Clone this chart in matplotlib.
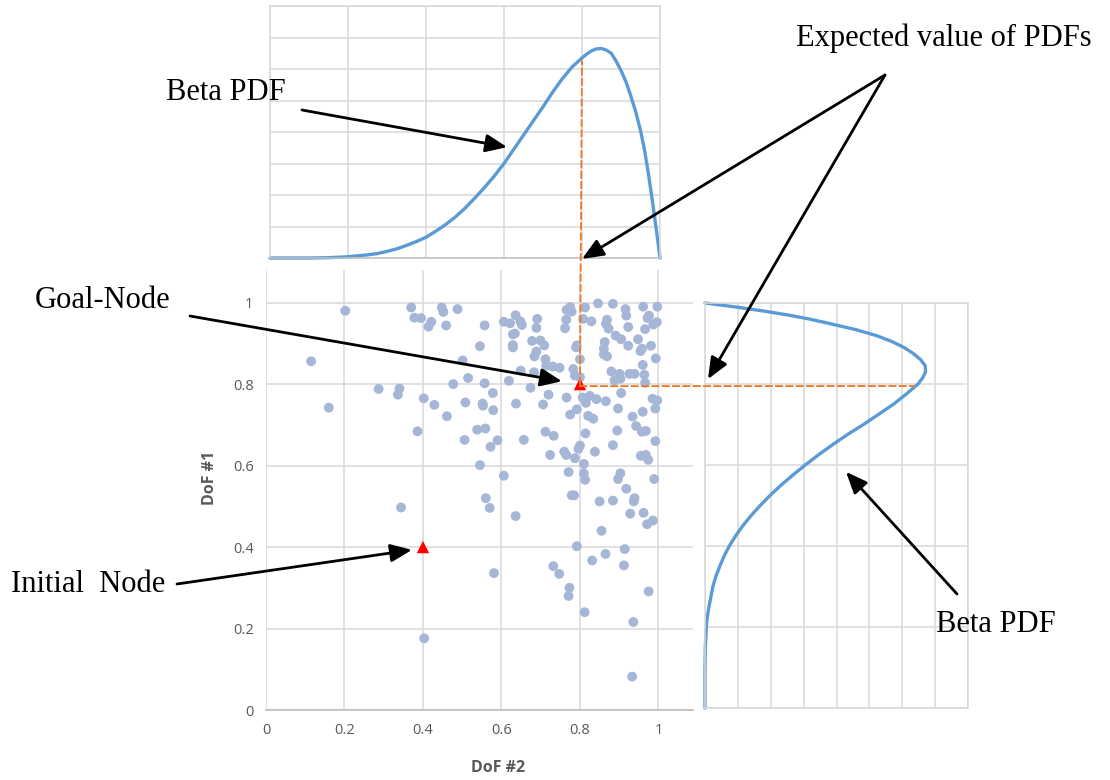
import matplotlib
matplotlib.use("Agg")
import matplotlib.pyplot as plt
import numpy as np
from matplotlib.patches import ConnectionPatch

W, H = 1110, 780

# scatter of sampled nodes (DoF #2, DoF #1)
SAMPLE_X = [
    0.202, 0.115, 0.160, 0.287, 0.340, 0.336, 0.370, 0.378, 0.395, 0.421, 0.414, 0.448, 0.452, 0.488,
    0.459, 0.402, 0.386, 0.429, 0.461, 0.477, 0.501, 0.515, 0.508, 0.506, 0.538, 0.559, 0.552, 0.553,
    0.557, 0.578, 0.579, 0.572, 0.590, 0.545, 0.606, 0.560, 0.545, 0.557, 0.606, 0.622, 0.636, 0.648,
    0.652, 0.629, 0.634, 0.629, 0.629, 0.649, 0.619, 0.637, 0.657, 0.683, 0.674,
    0.691, 0.689, 0.699, 0.678, 0.709, 0.689, 0.684, 0.712, 0.714, 0.731, 0.748, 0.766, 0.775, 0.779,
    0.765, 0.762, 0.792, 0.790, 0.800, 0.783, 0.787, 0.800, 0.813, 0.808, 0.829, 0.846, 0.884, 0.916,
    0.918, 0.869, 0.866, 0.873, 0.923, 0.961, 0.997, 0.976, 0.972, 0.996, 0.987, 0.966, 0.891, 0.905,
    0.863, 0.861, 0.923, 0.861, 0.869, 0.948, 0.958, 0.954, 0.981, 0.993, 0.960, 0.880, 0.901, 0.903,
    0.888, 0.926, 0.939, 0.964, 0.966,
    0.720, 0.706, 0.766, 0.807, 0.815, 0.825, 0.842, 0.866, 0.905, 0.792, 0.775, 0.821, 0.834, 0.897,
    0.934, 0.960, 0.985, 0.997, 0.992, 0.943, 0.958, 0.968, 0.712, 0.733, 0.814, 0.895, 0.992, 0.800,
    0.796, 0.884, 0.838, 0.724, 0.760, 0.765, 0.787, 0.810, 0.955, 0.968, 0.974, 0.771, 0.810, 0.813,
    0.903, 0.897, 0.989, 0.918, 0.779, 0.785, 0.939, 0.850, 0.884,
    0.344, 0.570, 0.636, 0.937, 0.928, 0.962, 0.986, 0.971, 0.855, 0.792, 0.914, 0.865, 0.831, 0.912,
    0.732, 0.747, 0.581, 0.773, 0.771, 0.975, 0.812, 0.936, 0.403, 0.933,
]
SAMPLE_Y = [
    0.980, 0.856, 0.742, 0.788, 0.789, 0.774, 0.988, 0.963, 0.962, 0.953, 0.941, 0.988, 0.977, 0.984,
    0.944, 0.765, 0.684, 0.749, 0.721, 0.800, 0.858, 0.815, 0.755, 0.663, 0.688, 0.691, 0.752, 0.747,
    0.802, 0.778, 0.736, 0.646, 0.662, 0.601, 0.575, 0.520, 0.893, 0.944, 0.953, 0.949, 0.969, 0.954,
    0.945, 0.922, 0.924, 0.896, 0.890, 0.833, 0.808, 0.752, 0.663, 0.829, 0.791,
    0.960, 0.938, 0.907, 0.906, 0.895, 0.880, 0.868, 0.861, 0.845, 0.843, 0.840, 0.982, 0.989, 0.978,
    0.958, 0.937, 0.895, 0.890, 0.861, 0.837, 0.821, 0.817, 0.988, 0.960, 0.954, 0.998, 0.997, 0.984,
    0.968, 0.958, 0.948, 0.936, 0.940, 0.990, 0.990, 0.968, 0.962, 0.952, 0.946, 0.935, 0.919, 0.910,
    0.903, 0.887, 0.894, 0.873, 0.868, 0.910, 0.887, 0.881, 0.894, 0.863, 0.847, 0.831, 0.825, 0.813,
    0.809, 0.825, 0.825, 0.823, 0.803,
    0.774, 0.750, 0.767, 0.767, 0.754, 0.771, 0.763, 0.758, 0.778, 0.738, 0.725, 0.722, 0.715, 0.740,
    0.720, 0.732, 0.764, 0.760, 0.740, 0.697, 0.683, 0.685, 0.683, 0.673, 0.679, 0.686, 0.660, 0.649,
    0.641, 0.650, 0.634, 0.626, 0.634, 0.626, 0.618, 0.604, 0.624, 0.626, 0.614, 0.584, 0.581, 0.565,
    0.581, 0.567, 0.567, 0.543, 0.527, 0.527, 0.520, 0.512, 0.514,
    0.497, 0.496, 0.476, 0.512, 0.482, 0.484, 0.465, 0.456, 0.440, 0.402, 0.395, 0.383, 0.367, 0.355,
    0.353, 0.334, 0.336, 0.300, 0.280, 0.291, 0.240, 0.216, 0.176, 0.082,
]

INIT_NODE = (0.4, 0.4)
GOAL_NODE = (0.8, 0.8)
MEAN_DOF2 = 0.8
MEAN_DOF1 = 0.795

# Beta PDF over DoF #2 (top panel), in grid units
TOP_X = [0.0, 0.1, 0.15, 0.2, 0.25, 0.275, 0.3, 0.325, 0.35, 0.375, 0.4, 0.425, 0.45, 0.475,
         0.5, 0.525, 0.55, 0.575, 0.6, 0.625, 0.65, 0.675, 0.7, 0.725, 0.75, 0.775, 0.8,
         0.8125, 0.825, 0.8375, 0.85, 0.8625, 0.875, 0.8875, 0.9, 0.9125, 0.925, 0.9375,
         0.95, 0.96, 0.97, 0.98, 0.99, 0.997, 1.0]
TOP_PDF = [0.0, 0.0, 0.01, 0.04, 0.1, 0.14, 0.21, 0.29, 0.4, 0.52, 0.66, 0.85, 1.06, 1.3,
           1.58, 1.9, 2.24, 2.6, 3.0, 3.45, 3.9, 4.35, 4.8, 5.27, 5.7, 6.07, 6.35,
           6.48, 6.58, 6.64, 6.65, 6.6, 6.5, 6.25, 5.95, 5.6, 5.15, 4.65,
           4.05, 3.45, 2.7, 1.85, 0.95, 0.3, 0.0]

# Beta PDF over DoF #1 (right panel), in grid units
RIGHT_Y = [0.0, 0.1, 0.15, 0.2, 0.225, 0.25, 0.275, 0.3, 0.325, 0.35, 0.375, 0.4, 0.425, 0.45,
           0.475, 0.5, 0.525, 0.55, 0.575, 0.6, 0.625, 0.65, 0.675, 0.7, 0.725, 0.75, 0.775,
           0.8, 0.815, 0.83, 0.845, 0.86, 0.875, 0.89, 0.905, 0.92, 0.935, 0.95, 0.96, 0.97,
           0.98, 0.99, 1.0]
RIGHT_PDF = [0.0, 0.0, 0.01, 0.04, 0.07, 0.12, 0.18, 0.24, 0.33, 0.45, 0.58, 0.74, 0.93, 1.15,
             1.4, 1.68, 1.98, 2.31, 2.67, 3.05, 3.45, 3.88, 4.33, 4.82, 5.28, 5.73, 6.12,
             6.48, 6.62, 6.71, 6.7, 6.56, 6.34, 6.06, 5.68, 5.2, 4.55, 3.75, 3.2, 2.55,
             1.8, 0.95, 0.0]

TICKS = [0, 0.2, 0.4, 0.6, 0.8, 1.0]
TICK_LABELS = ["0", "0.2", "0.4", "0.6", "0.8", "1"]

GRID = "#d9d9d9"
AXIS = "#bfbfbf"
LABEL = "#595959"
DOT = "#a5b6d7"
CURVE = "#5b9bd5"
DASH = "#ed7d31"
SERIF = "Liberation Serif"


def box(x0, y0, x1, y1):
    # pixel box -> figure fraction rect
    return [x0 / W, 1 - y1 / H, (x1 - x0) / W, (y1 - y0) / H]


def fig_pt(x, y):
    return (x / W, 1 - y / H)


fig = plt.figure(figsize=(W / 100, H / 100), dpi=100)

# main scatter
ax = fig.add_axes(box(266, 270, 693, 710))
ax.set_xlim(0, 1.088)
ax.set_ylim(0, 1.08)
ax.set_xticks(TICKS)
ax.set_xticklabels(TICK_LABELS)
ax.set_yticks(TICKS)
ax.set_yticklabels(TICK_LABELS)
ax.tick_params(length=0, pad=9, labelsize=10.5, labelcolor=LABEL)
for t in ax.get_xticklabels() + ax.get_yticklabels():
    t.set_family("Open Sans")
ax.grid(color=GRID, lw=1.1)
ax.set_axisbelow(True)
for s in ["top", "right", "left"]:
    ax.spines[s].set_visible(False)
ax.spines["bottom"].set_color(AXIS)
ax.spines["bottom"].set_linewidth(1.2)
ax.scatter(SAMPLE_X, SAMPLE_Y, s=50, color=DOT, edgecolors="none", zorder=3)
ax.scatter([INIT_NODE[0], GOAL_NODE[0]], [INIT_NODE[1], GOAL_NODE[1]], marker="^", s=80,
           color="red", edgecolors="none", zorder=5)
ax.set_xlabel("DoF #2", fontsize=11.5, fontweight="bold", color=LABEL, family="Open Sans")
ax.set_ylabel("DoF #1", fontsize=11.5, fontweight="bold", color=LABEL, family="Open Sans")
ax.xaxis.set_label_coords(0.543, -0.113)
ax.yaxis.set_label_coords(-0.113, 0.527)
ax.patch.set_visible(False)

# top marginal
axt = fig.add_axes(box(270, 6, 660, 258))
axt.set_xlim(0, 1)
axt.set_ylim(0, 8)
axt.set_xticks(TICKS)
axt.set_yticks(range(9))
axt.tick_params(length=0, labelbottom=False, labelleft=False)
axt.grid(color=GRID, lw=1.1)
for s in axt.spines.values():
    s.set_color(GRID)
    s.set_linewidth(1.1)
axt.spines["bottom"].set_color(AXIS)
axt.plot(TOP_X, TOP_PDF, color=CURVE, lw=2.4, solid_capstyle="round",
         solid_joinstyle="round", clip_on=False)
axt.patch.set_visible(False)

# right marginal
axr = fig.add_axes(box(705, 303, 968, 708))
axr.set_xlim(0, 8)
axr.set_ylim(0, 1)
axr.set_xticks(range(9))
axr.set_yticks(TICKS)
axr.tick_params(length=0, labelbottom=False, labelleft=False)
axr.grid(color=GRID, lw=1.1)
for s in axr.spines.values():
    s.set_color(GRID)
    s.set_linewidth(1.1)
axr.plot(RIGHT_PDF, RIGHT_Y, color=CURVE, lw=2.4, solid_capstyle="round",
         solid_joinstyle="round", clip_on=False)
axr.patch.set_visible(False)

# expected value guides
top_end = np.interp(MEAN_DOF2, TOP_X, TOP_PDF) - 0.1
right_end = np.interp(MEAN_DOF1, RIGHT_Y, RIGHT_PDF) - 0.05
dash = (0, (3.4, 1.9))
fig.add_artist(ConnectionPatch(xyA=(MEAN_DOF2, GOAL_NODE[1]), coordsA=ax.transData,
                               xyB=(MEAN_DOF2, top_end), coordsB=axt.transData,
                               color=DASH, lw=1.4, ls=dash))
fig.add_artist(ConnectionPatch(xyA=(MEAN_DOF2, MEAN_DOF1), coordsA=ax.transData,
                               xyB=(right_end, MEAN_DOF1), coordsB=axr.transData,
                               color=DASH, lw=1.4, ls=dash))


def arrow(tail_px, tip, tip_ax):
    fig.add_artist(ConnectionPatch(xyA=fig_pt(*tail_px), coordsA="figure fraction",
                                   xyB=tip, coordsB=tip_ax.transData,
                                   arrowstyle="-|>,head_length=1.0,head_width=0.42",
                                   mutation_scale=13, color="black", lw=2.0,
                                   shrinkA=0, shrinkB=0))


arrow((302, 110), (0.608, 3.52), axt)
arrow((885, 75), (0.80, -0.03), axt)
arrow((885, 75), (0.09, 0.812), axr)
arrow((190, 316), (0.754, 0.807), ax)
arrow((177, 584), (0.372, 0.393), ax)
arrow((957, 594), (4.29, 0.583), axr)

for txt, (px, py) in [("Beta PDF", (226, 93)), ("Expected value of PDFs", (944, 38)),
                      ("Goal-Node", (103, 300)), ("Initial  Node", (88, 584)),
                      ("Beta PDF", (996, 625))]:
    fig.text(*fig_pt(px, py), txt, ha="center", va="center", fontsize=22, family=SERIF)

fig.savefig("out.png", dpi=100)
